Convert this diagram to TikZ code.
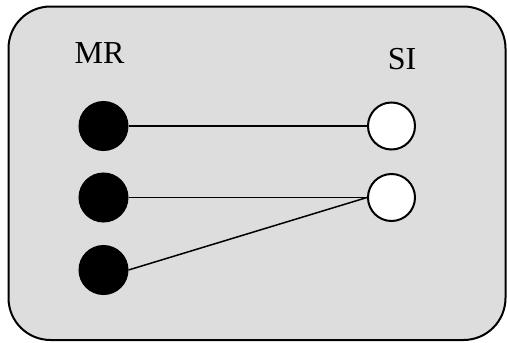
\documentclass[tikz,border=0pt]{standalone}
\usepackage{fontspec}
\setmainfont{Liberation Serif}
\begin{document}
\begin{tikzpicture}[x=1pt,y=-1pt,
  frame/.style={draw=black,line width=2pt,fill=panelgray,rounded corners=42pt},
  srcdot/.style={circle,fill=black,draw=black,line width=1pt,minimum size=49pt,inner sep=0pt},
  dstdot/.style={circle,fill=white,draw=black,line width=2pt,minimum size=47pt,inner sep=0pt},
  link/.style={draw=black,line width=1.5pt},
  heading/.style={font=\fontsize{32}{38}\selectfont,inner sep=0pt,anchor=base}]
\definecolor{panelgray}{HTML}{DDDDDD}
\useasboundingbox (0,0) rectangle (507,343);
\path[frame] (8.5,6.5) rectangle (505.5,340);
% left column
\node[srcdot] (m1) at (103.5,126) {};
\node[srcdot] (m2) at (103.5,197.5) {};
\node[srcdot] (m3) at (103.5,270) {};
% right column
\node[dstdot] (s1) at (391.5,126) {};
\node[dstdot] (s2) at (391.5,197.5) {};
% labels
\node[heading] (mr) at (99.5,63) {MR};
\node[heading] (si) at (402,69) {SI};
% connections
\draw[link] (m1.east) -- (s1.west);
\draw[link] (m2.east) -- (s2.west);
\draw[link] (m3.east) -- (s2.west);
\end{tikzpicture}
\end{document}
